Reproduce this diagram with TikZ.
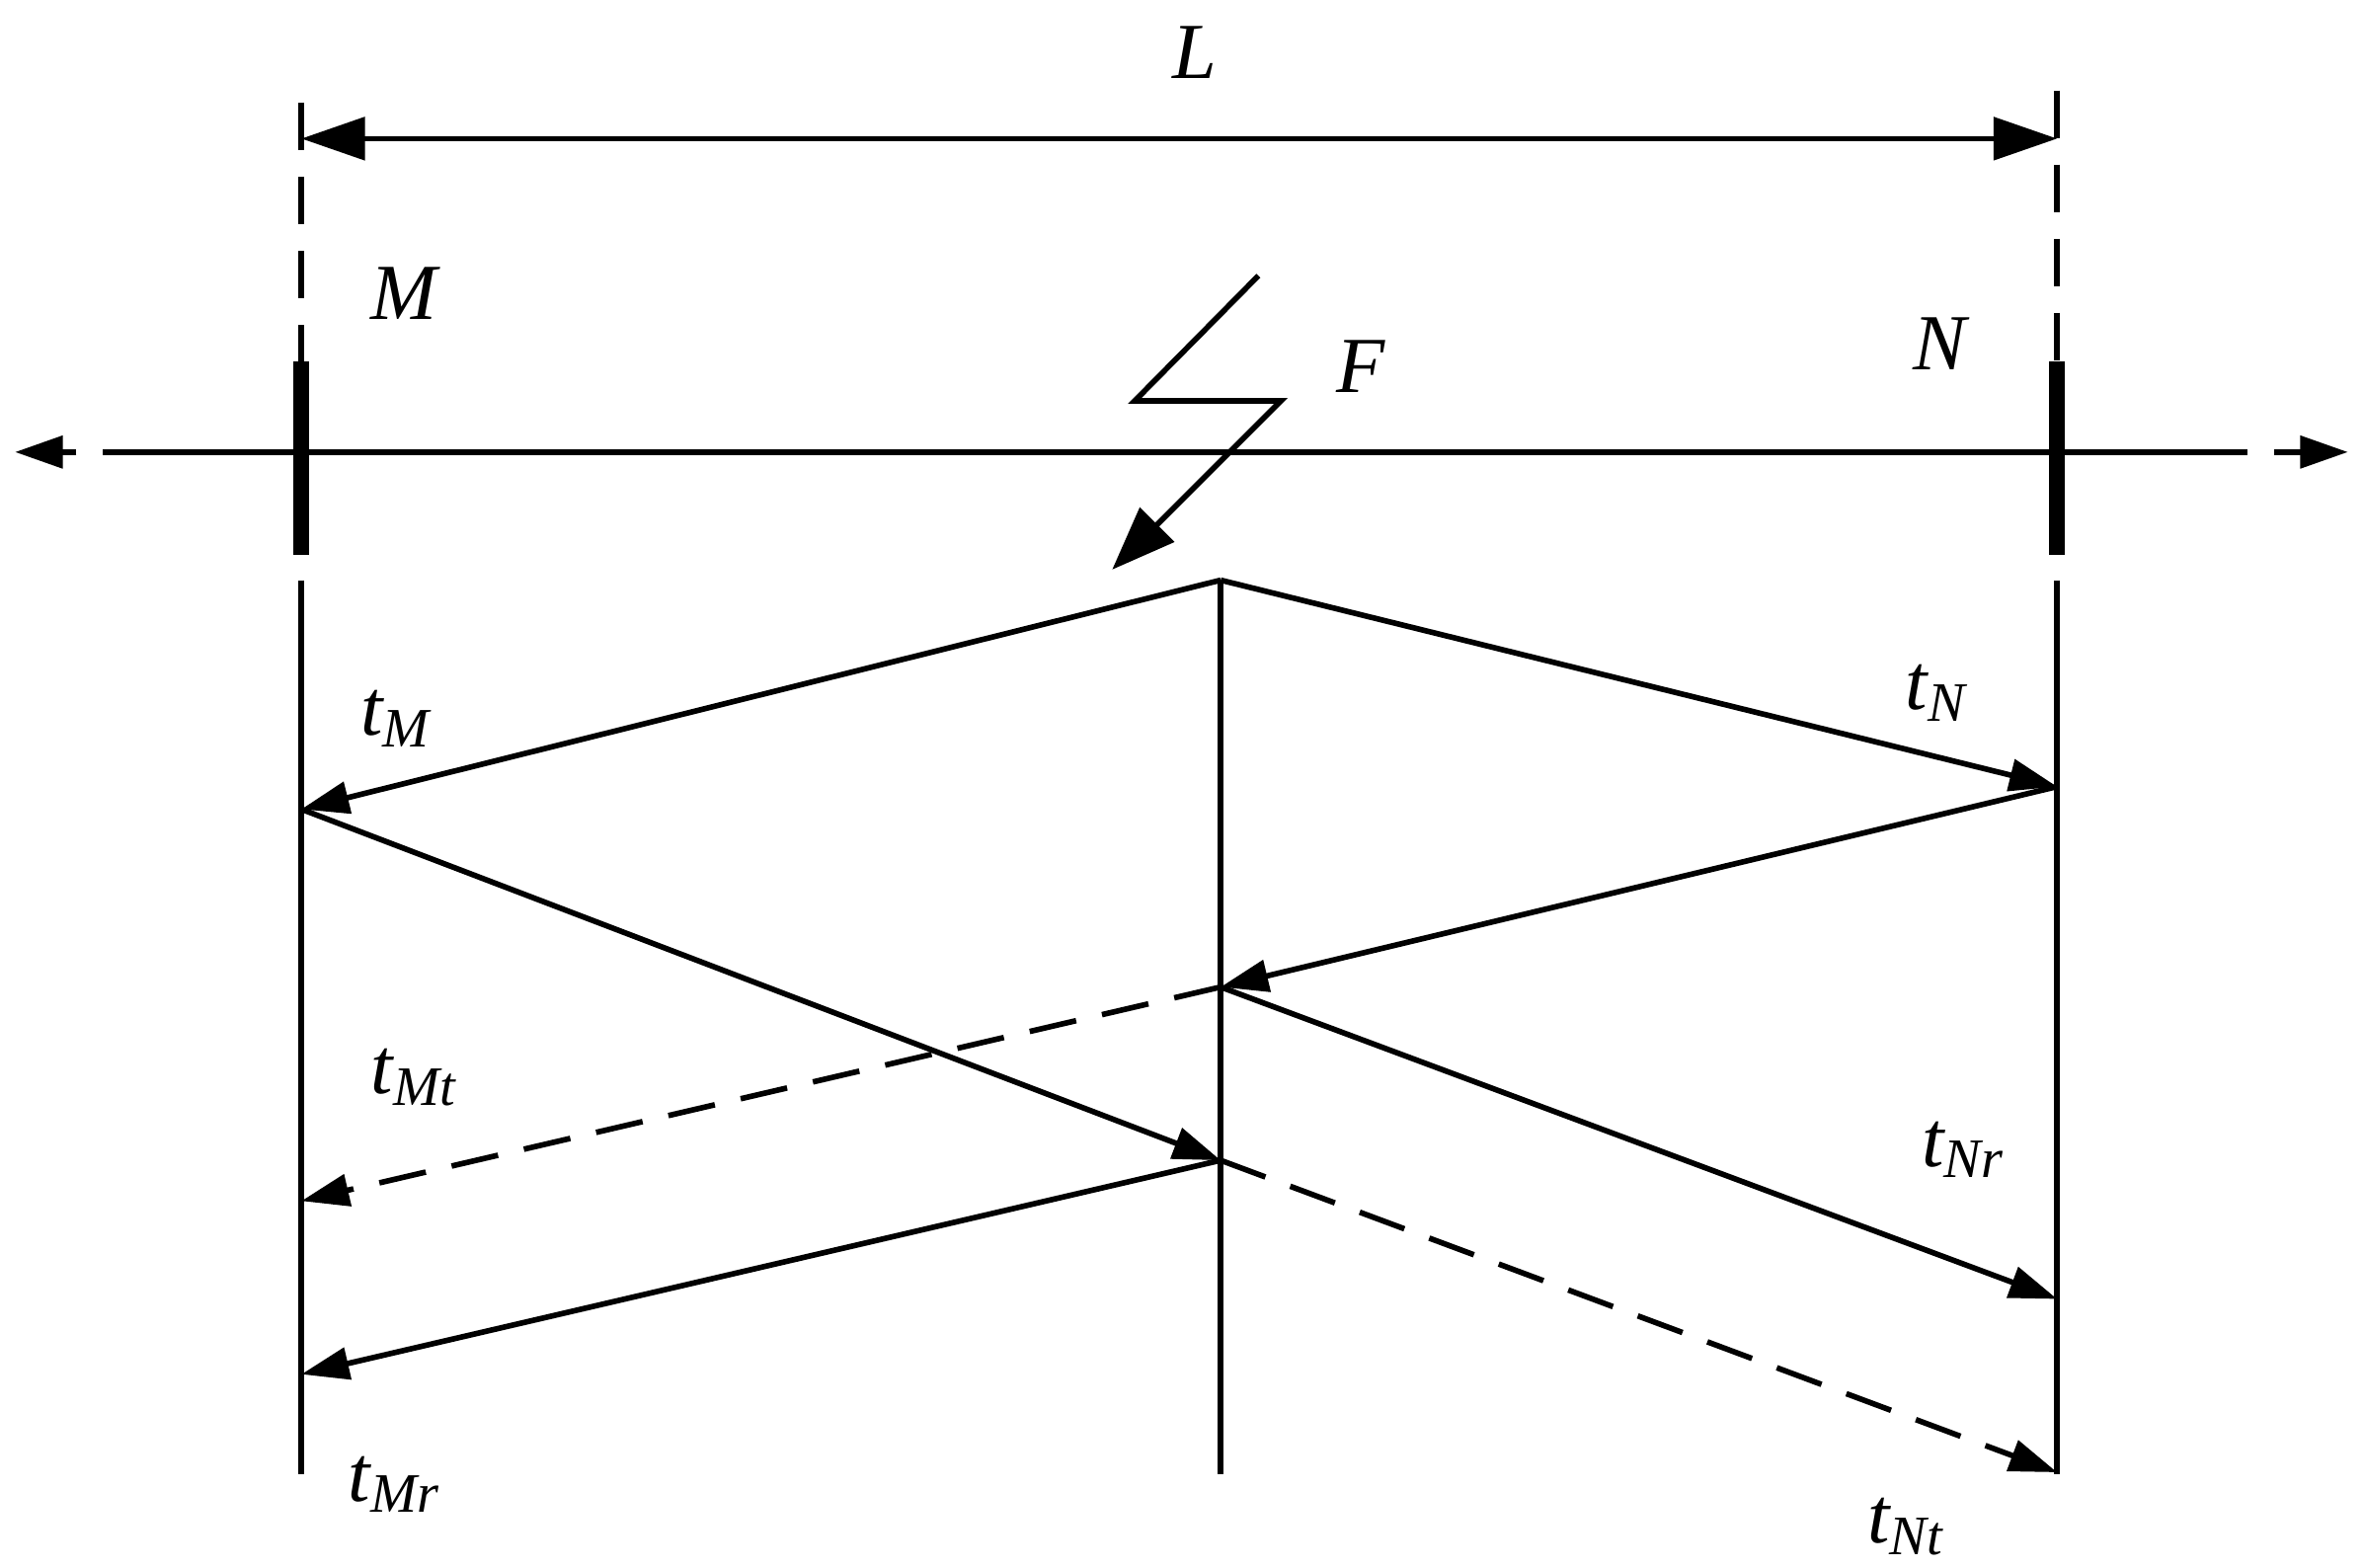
\documentclass[tikz,border=0pt]{standalone}
\usepackage{fontspec}
\setmainfont{Liberation Serif}
\usetikzlibrary{arrows.meta}
\begin{document}
\begin{tikzpicture}[x=0.01cm,y=-0.01cm,
  ln/.style={line width=1.05pt},
  ar/.style={ln,-{Triangle[length=9pt,width=6pt]}},
  dsh/.style={dash pattern=on 9pt off 5pt},
  lab/.style={font=\fontsize{15}{18}\selectfont\itshape}]
\useasboundingbox (0,0) rectangle (1568,1040);
% main line
\coordinate (LE) at (10,300); \coordinate (RE) at (1558,300);
\coordinate (LS) at (100,300); \coordinate (RS) at (1460,300);
\draw[ln] (LS) -- (RS);
\draw[ar,dsh] (LS) -- (LE);
\draw[ar,dsh] (RS) -- (RE);
% bars
\draw[line width=3pt] (200,240) -- (200,368);
\draw[line width=3pt] (1365,240) -- (1365,368);
\draw[ln,dsh] (200,68) -- (200,240);
\draw[ln,dsh] (1365,60) -- (1365,240);
\coordinate (DL) at (200,92); \coordinate (DR) at (1365,92);
\draw[ln,{Triangle[length=12pt,width=8pt]}-{Triangle[length=12pt,width=8pt]}] (DL) -- (DR);
\node[lab] (L) at (793,35) {L};
\node[lab] (M) at (268,195) {M};
\node[lab] (N) at (1287,228) {N};
\node[lab] (F) at (903,243) {F};
% lightning
\draw[ln,-{Triangle[length=12pt,width=9pt]}] (835,183) -- (753,266) -- (850,266) -- (738,378);
% verticals
\draw[ln] (200,385) -- (200,978);
\draw[ln] (810,385) -- (810,978);
\draw[ln] (1365,385) -- (1365,978);
\coordinate (F0) at (810,385);
\coordinate (M1) at (200,537); \coordinate (N1) at (1365,522);
\coordinate (F1) at (810,655); \coordinate (F2) at (810,770);
\coordinate (M2) at (200,797); \coordinate (N2) at (1365,862);
\coordinate (M3) at (200,912); \coordinate (N3) at (1365,977);
\draw[ar] (F0) -- (M1);
\draw[ar] (F0) -- (N1);
\draw[ar] (M1) -- (F2);
\draw[ar] (N1) -- (F1);
\draw[ar,dsh] (F1) -- (M2);
\draw[ar] (F1) -- (N2);
\draw[ar] (F2) -- (M3);
\draw[ar,dsh] (F2) -- (N3);
\node[lab] (tM) at (263,477) {t\textsubscript{M}};
\node[lab] (tN) at (1285,460) {t\textsubscript{N}};
\node[lab] (tMt) at (275,715) {t\textsubscript{Mt}};
\node[lab] (tNr) at (1303,763) {t\textsubscript{Nr}};
\node[lab] (tMr) at (262,985) {t\textsubscript{Mr}};
\node[lab] (tNt) at (1265,1013) {t\textsubscript{Nt}};
\end{tikzpicture}
\end{document}
